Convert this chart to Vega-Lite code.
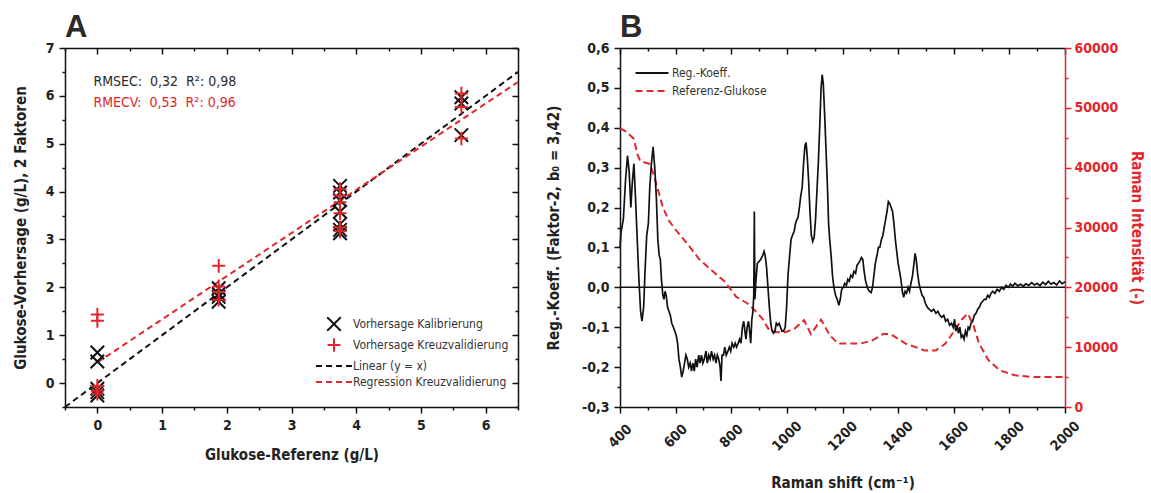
{
  "$schema": "https://vega.github.io/schema/vega-lite/v6.json",
  "padding": {"left": 13, "top": 12, "right": 5, "bottom": 2},
  "spacing": 24,
  "config": {
    "font": "Liberation Sans Narrow, DejaVu Sans Condensed, Liberation Sans, sans-serif",
    "view": {"stroke": null},
    "axis": {
      "grid": false,
      "labelFont": "Liberation Sans Narrow, DejaVu Sans Condensed, Liberation Sans, sans-serif",
      "labelFontSize": 14, "labelFontWeight": "bold", "labelColor": "#222",
      "titleFont": "Liberation Sans Narrow, DejaVu Sans Condensed, Liberation Sans, sans-serif",
      "titleFontSize": 15, "titleFontWeight": "bold", "titleColor": "#222",
      "domainColor": "#111", "domainWidth": 1.5, "tickColor": "#111", "tickWidth": 1.5,
      "labelFlush": false, "labelOverlap": false
    },
    "legend": {
      "labelFont": "Liberation Sans Narrow, DejaVu Sans Condensed, Liberation Sans, sans-serif",
      "labelFontSize": 12, "labelColor": "#333", "labelLimit": 400
    },
    "title": {"font": "Liberation Sans, sans-serif", "fontSize": 31, "fontWeight": "bold", "color": "#2a2a2a", "anchor": "start", "frame": "group"}
  },
  "resolve": {"scale": {"color": "independent", "shape": "independent", "strokeDash": "independent"}},
  "datasets": {
    "ptsA": [
      {"ref": 0, "pred": 0.64, "series": "Vorhersage Kalibrierung"},
      {"ref": 0, "pred": 0.45, "series": "Vorhersage Kalibrierung"},
      {"ref": 0, "pred": -0.12, "series": "Vorhersage Kalibrierung"},
      {"ref": 0, "pred": -0.19, "series": "Vorhersage Kalibrierung"},
      {"ref": 0, "pred": -0.26, "series": "Vorhersage Kalibrierung"},
      {"ref": 1.875, "pred": 1.98, "series": "Vorhersage Kalibrierung"},
      {"ref": 1.875, "pred": 1.86, "series": "Vorhersage Kalibrierung"},
      {"ref": 1.875, "pred": 1.8, "series": "Vorhersage Kalibrierung"},
      {"ref": 1.875, "pred": 1.7, "series": "Vorhersage Kalibrierung"},
      {"ref": 3.75, "pred": 4.12, "series": "Vorhersage Kalibrierung"},
      {"ref": 3.75, "pred": 3.98, "series": "Vorhersage Kalibrierung"},
      {"ref": 3.75, "pred": 3.82, "series": "Vorhersage Kalibrierung"},
      {"ref": 3.75, "pred": 3.58, "series": "Vorhersage Kalibrierung"},
      {"ref": 3.75, "pred": 3.32, "series": "Vorhersage Kalibrierung"},
      {"ref": 3.75, "pred": 3.2, "series": "Vorhersage Kalibrierung"},
      {"ref": 3.75, "pred": 3.13, "series": "Vorhersage Kalibrierung"},
      {"ref": 5.625, "pred": 5.97, "series": "Vorhersage Kalibrierung"},
      {"ref": 5.625, "pred": 5.84, "series": "Vorhersage Kalibrierung"},
      {"ref": 5.625, "pred": 5.18, "series": "Vorhersage Kalibrierung"},
      {"ref": 0, "pred": 1.43, "series": "Vorhersage Kreuzvalidierung"},
      {"ref": 0, "pred": 1.3, "series": "Vorhersage Kreuzvalidierung"},
      {"ref": 0, "pred": -0.06, "series": "Vorhersage Kreuzvalidierung"},
      {"ref": 0, "pred": -0.16, "series": "Vorhersage Kreuzvalidierung"},
      {"ref": 0, "pred": -0.22, "series": "Vorhersage Kreuzvalidierung"},
      {"ref": 1.875, "pred": 2.45, "series": "Vorhersage Kreuzvalidierung"},
      {"ref": 1.875, "pred": 2.02, "series": "Vorhersage Kreuzvalidierung"},
      {"ref": 1.875, "pred": 1.9, "series": "Vorhersage Kreuzvalidierung"},
      {"ref": 1.875, "pred": 1.74, "series": "Vorhersage Kreuzvalidierung"},
      {"ref": 3.75, "pred": 4.05, "series": "Vorhersage Kreuzvalidierung"},
      {"ref": 3.75, "pred": 3.92, "series": "Vorhersage Kreuzvalidierung"},
      {"ref": 3.75, "pred": 3.78, "series": "Vorhersage Kreuzvalidierung"},
      {"ref": 3.75, "pred": 3.55, "series": "Vorhersage Kreuzvalidierung"},
      {"ref": 3.75, "pred": 3.25, "series": "Vorhersage Kreuzvalidierung"},
      {"ref": 3.75, "pred": 3.17, "series": "Vorhersage Kreuzvalidierung"},
      {"ref": 5.625, "pred": 6.05, "series": "Vorhersage Kreuzvalidierung"},
      {"ref": 5.625, "pred": 5.77, "series": "Vorhersage Kreuzvalidierung"},
      {"ref": 5.625, "pred": 5.11, "series": "Vorhersage Kreuzvalidierung"}
    ],
    "lineA": [
      {"ref": -0.5, "pred": -0.5, "series": "Linear (y = x)"},
      {"ref": 6.5, "pred": 6.5, "series": "Linear (y = x)"},
      {"ref": 0, "pred": 0.43, "series": "Regression Kreuzvalidierung"},
      {"ref": 6.5, "pred": 6.29, "series": "Regression Kreuzvalidierung"}
    ],
    "annot": [
      {"kind": "cal", "x": -0.06, "y": 6.3, "label": "RMSEC:\u00a0 0,32\u00a0 R²: 0,98"},
      {"kind": "cv", "x": -0.06, "y": 5.86, "label": "RMECV:\u00a0 0,53\u00a0 R²: 0,96"}
    ],
    "coef": [
      {"shift": 400, "coef": 0.1}, {"shift": 404, "coef": 0.14}, {"shift": 412, "coef": 0.17}, {"shift": 420, "coef": 0.27},
      {"shift": 427, "coef": 0.33}, {"shift": 433, "coef": 0.29}, {"shift": 439, "coef": 0.2}, {"shift": 444, "coef": 0.26},
      {"shift": 450, "coef": 0.31}, {"shift": 456, "coef": 0.22}, {"shift": 462, "coef": 0.12}, {"shift": 468, "coef": 0.02},
      {"shift": 474, "coef": -0.06}, {"shift": 479, "coef": -0.085}, {"shift": 485, "coef": -0.05}, {"shift": 490, "coef": 0.04},
      {"shift": 496, "coef": 0.13}, {"shift": 502, "coef": 0.16}, {"shift": 507, "coef": 0.25}, {"shift": 513, "coef": 0.31},
      {"shift": 519, "coef": 0.352}, {"shift": 525, "coef": 0.3}, {"shift": 531, "coef": 0.22}, {"shift": 536, "coef": 0.12},
      {"shift": 541, "coef": 0.08}, {"shift": 545, "coef": 0.07}, {"shift": 549, "coef": 0.02}, {"shift": 554, "coef": -0.02},
      {"shift": 558, "coef": -0.03}, {"shift": 562, "coef": -0.01}, {"shift": 566, "coef": -0.02}, {"shift": 571, "coef": -0.05},
      {"shift": 576, "coef": -0.06}, {"shift": 581, "coef": -0.07}, {"shift": 586, "coef": -0.09}, {"shift": 592, "coef": -0.1},
      {"shift": 597, "coef": -0.11}, {"shift": 602, "coef": -0.12}, {"shift": 607, "coef": -0.14}, {"shift": 612, "coef": -0.18},
      {"shift": 617, "coef": -0.2}, {"shift": 622, "coef": -0.225}, {"shift": 627, "coef": -0.21}, {"shift": 632, "coef": -0.19},
      {"shift": 637, "coef": -0.17}, {"shift": 642, "coef": -0.18}, {"shift": 647, "coef": -0.2}, {"shift": 652, "coef": -0.19},
      {"shift": 657, "coef": -0.21}, {"shift": 662, "coef": -0.19}, {"shift": 667, "coef": -0.21}, {"shift": 672, "coef": -0.18},
      {"shift": 677, "coef": -0.2}, {"shift": 683, "coef": -0.17}, {"shift": 688, "coef": -0.19}, {"shift": 693, "coef": -0.17},
      {"shift": 698, "coef": -0.19}, {"shift": 703, "coef": -0.18}, {"shift": 709, "coef": -0.16}, {"shift": 714, "coef": -0.19},
      {"shift": 719, "coef": -0.17}, {"shift": 724, "coef": -0.18}, {"shift": 729, "coef": -0.16}, {"shift": 735, "coef": -0.18},
      {"shift": 740, "coef": -0.17}, {"shift": 745, "coef": -0.19}, {"shift": 750, "coef": -0.17}, {"shift": 755, "coef": -0.18},
      {"shift": 760, "coef": -0.2}, {"shift": 763, "coef": -0.235}, {"shift": 767, "coef": -0.17}, {"shift": 772, "coef": -0.17},
      {"shift": 777, "coef": -0.15}, {"shift": 782, "coef": -0.17}, {"shift": 788, "coef": -0.16}, {"shift": 793, "coef": -0.15},
      {"shift": 798, "coef": -0.16}, {"shift": 803, "coef": -0.14}, {"shift": 809, "coef": -0.15}, {"shift": 814, "coef": -0.14},
      {"shift": 819, "coef": -0.15}, {"shift": 825, "coef": -0.14}, {"shift": 830, "coef": -0.13}, {"shift": 835, "coef": -0.14},
      {"shift": 840, "coef": -0.1}, {"shift": 845, "coef": -0.085}, {"shift": 849, "coef": -0.11}, {"shift": 853, "coef": -0.13},
      {"shift": 857, "coef": -0.1}, {"shift": 862, "coef": -0.085}, {"shift": 866, "coef": -0.11}, {"shift": 870, "coef": -0.14},
      {"shift": 874, "coef": -0.08}, {"shift": 878, "coef": -0.06}, {"shift": 881, "coef": -0.02}, {"shift": 883, "coef": 0.19},
      {"shift": 885, "coef": -0.03}, {"shift": 889, "coef": 0.02}, {"shift": 894, "coef": 0.06}, {"shift": 900, "coef": 0.065},
      {"shift": 906, "coef": 0.07}, {"shift": 913, "coef": 0.08}, {"shift": 918, "coef": 0.09}, {"shift": 922, "coef": 0.08},
      {"shift": 927, "coef": 0.05}, {"shift": 932, "coef": 0.0}, {"shift": 937, "coef": -0.05}, {"shift": 942, "coef": -0.09},
      {"shift": 947, "coef": -0.11}, {"shift": 952, "coef": -0.115}, {"shift": 957, "coef": -0.11}, {"shift": 962, "coef": -0.09},
      {"shift": 967, "coef": -0.095}, {"shift": 972, "coef": -0.09}, {"shift": 977, "coef": -0.1}, {"shift": 982, "coef": -0.11},
      {"shift": 988, "coef": -0.11}, {"shift": 994, "coef": -0.1}, {"shift": 999, "coef": -0.05}, {"shift": 1004, "coef": 0.03},
      {"shift": 1010, "coef": 0.08}, {"shift": 1015, "coef": 0.12}, {"shift": 1020, "coef": 0.13}, {"shift": 1026, "coef": 0.14},
      {"shift": 1031, "coef": 0.16}, {"shift": 1036, "coef": 0.17}, {"shift": 1040, "coef": 0.175}, {"shift": 1045, "coef": 0.2},
      {"shift": 1050, "coef": 0.23}, {"shift": 1055, "coef": 0.25}, {"shift": 1060, "coef": 0.31}, {"shift": 1065, "coef": 0.355},
      {"shift": 1069, "coef": 0.363}, {"shift": 1073, "coef": 0.33}, {"shift": 1078, "coef": 0.27}, {"shift": 1083, "coef": 0.19},
      {"shift": 1088, "coef": 0.13}, {"shift": 1093, "coef": 0.115}, {"shift": 1098, "coef": 0.125}, {"shift": 1103, "coef": 0.17},
      {"shift": 1108, "coef": 0.24}, {"shift": 1113, "coef": 0.31}, {"shift": 1118, "coef": 0.4}, {"shift": 1123, "coef": 0.5},
      {"shift": 1127, "coef": 0.533}, {"shift": 1131, "coef": 0.51}, {"shift": 1136, "coef": 0.43}, {"shift": 1141, "coef": 0.34},
      {"shift": 1146, "coef": 0.25}, {"shift": 1150, "coef": 0.16}, {"shift": 1154, "coef": 0.12}, {"shift": 1159, "coef": 0.08},
      {"shift": 1164, "coef": 0.03}, {"shift": 1169, "coef": 0.0}, {"shift": 1175, "coef": -0.02}, {"shift": 1181, "coef": -0.03},
      {"shift": 1187, "coef": -0.045}, {"shift": 1192, "coef": -0.03}, {"shift": 1197, "coef": -0.005}, {"shift": 1203, "coef": 0.0},
      {"shift": 1208, "coef": 0.01}, {"shift": 1214, "coef": 0.005}, {"shift": 1219, "coef": 0.02}, {"shift": 1224, "coef": 0.015},
      {"shift": 1230, "coef": 0.03}, {"shift": 1236, "coef": 0.025}, {"shift": 1241, "coef": 0.04}, {"shift": 1247, "coef": 0.035},
      {"shift": 1252, "coef": 0.055}, {"shift": 1257, "coef": 0.06}, {"shift": 1262, "coef": 0.065}, {"shift": 1268, "coef": 0.075},
      {"shift": 1273, "coef": 0.07}, {"shift": 1277, "coef": 0.045}, {"shift": 1282, "coef": 0.02}, {"shift": 1287, "coef": 0.005},
      {"shift": 1292, "coef": -0.005}, {"shift": 1297, "coef": -0.01}, {"shift": 1303, "coef": -0.013}, {"shift": 1308, "coef": 0.0},
      {"shift": 1313, "coef": 0.03}, {"shift": 1318, "coef": 0.06}, {"shift": 1324, "coef": 0.08}, {"shift": 1329, "coef": 0.1},
      {"shift": 1334, "coef": 0.1}, {"shift": 1340, "coef": 0.12}, {"shift": 1345, "coef": 0.13}, {"shift": 1350, "coef": 0.15},
      {"shift": 1355, "coef": 0.17}, {"shift": 1360, "coef": 0.19}, {"shift": 1365, "coef": 0.215}, {"shift": 1370, "coef": 0.21},
      {"shift": 1375, "coef": 0.2}, {"shift": 1380, "coef": 0.19}, {"shift": 1385, "coef": 0.16}, {"shift": 1390, "coef": 0.12},
      {"shift": 1395, "coef": 0.09}, {"shift": 1400, "coef": 0.06}, {"shift": 1405, "coef": 0.04}, {"shift": 1410, "coef": 0.02},
      {"shift": 1415, "coef": -0.01}, {"shift": 1420, "coef": -0.025}, {"shift": 1425, "coef": -0.01}, {"shift": 1430, "coef": -0.015},
      {"shift": 1436, "coef": 0.0}, {"shift": 1441, "coef": -0.01}, {"shift": 1446, "coef": 0.01}, {"shift": 1452, "coef": 0.03},
      {"shift": 1457, "coef": 0.06}, {"shift": 1461, "coef": 0.085}, {"shift": 1465, "coef": 0.07}, {"shift": 1470, "coef": 0.035},
      {"shift": 1475, "coef": 0.01}, {"shift": 1480, "coef": -0.005}, {"shift": 1486, "coef": -0.02}, {"shift": 1492, "coef": -0.025},
      {"shift": 1498, "coef": -0.04}, {"shift": 1505, "coef": -0.05}, {"shift": 1512, "coef": -0.055}, {"shift": 1520, "coef": -0.06},
      {"shift": 1528, "coef": -0.055}, {"shift": 1536, "coef": -0.065}, {"shift": 1543, "coef": -0.06}, {"shift": 1550, "coef": -0.07},
      {"shift": 1557, "coef": -0.075}, {"shift": 1564, "coef": -0.07}, {"shift": 1571, "coef": -0.085}, {"shift": 1578, "coef": -0.08},
      {"shift": 1585, "coef": -0.095}, {"shift": 1592, "coef": -0.09}, {"shift": 1598, "coef": -0.1}, {"shift": 1603, "coef": -0.08},
      {"shift": 1607, "coef": -0.11}, {"shift": 1612, "coef": -0.095}, {"shift": 1617, "coef": -0.115}, {"shift": 1622, "coef": -0.1},
      {"shift": 1627, "coef": -0.125}, {"shift": 1632, "coef": -0.12}, {"shift": 1637, "coef": -0.13}, {"shift": 1642, "coef": -0.11},
      {"shift": 1647, "coef": -0.12}, {"shift": 1652, "coef": -0.1}, {"shift": 1657, "coef": -0.105}, {"shift": 1662, "coef": -0.09},
      {"shift": 1668, "coef": -0.085}, {"shift": 1674, "coef": -0.07}, {"shift": 1680, "coef": -0.065}, {"shift": 1686, "coef": -0.055},
      {"shift": 1692, "coef": -0.05}, {"shift": 1698, "coef": -0.04}, {"shift": 1704, "coef": -0.035}, {"shift": 1710, "coef": -0.03},
      {"shift": 1716, "coef": -0.03}, {"shift": 1722, "coef": -0.02}, {"shift": 1728, "coef": -0.025}, {"shift": 1734, "coef": -0.015},
      {"shift": 1740, "coef": -0.01}, {"shift": 1748, "coef": -0.015}, {"shift": 1756, "coef": -0.005}, {"shift": 1764, "coef": -0.01},
      {"shift": 1772, "coef": 0.0}, {"shift": 1780, "coef": -0.005}, {"shift": 1788, "coef": 0.005}, {"shift": 1796, "coef": 0.0},
      {"shift": 1804, "coef": 0.008}, {"shift": 1812, "coef": 0.003}, {"shift": 1820, "coef": 0.01}, {"shift": 1830, "coef": 0.004},
      {"shift": 1840, "coef": 0.008}, {"shift": 1850, "coef": 0.003}, {"shift": 1860, "coef": 0.009}, {"shift": 1870, "coef": 0.005},
      {"shift": 1880, "coef": 0.012}, {"shift": 1890, "coef": 0.006}, {"shift": 1900, "coef": 0.01}, {"shift": 1910, "coef": 0.004},
      {"shift": 1920, "coef": 0.013}, {"shift": 1930, "coef": 0.007}, {"shift": 1940, "coef": 0.015}, {"shift": 1950, "coef": 0.008},
      {"shift": 1960, "coef": 0.012}, {"shift": 1970, "coef": 0.006}, {"shift": 1980, "coef": 0.016}, {"shift": 1990, "coef": 0.009},
      {"shift": 2000, "coef": 0.014}
    ],
    "refg": [
      {"shift": 400, "intensity": 46600}, {"shift": 426, "intensity": 45900}, {"shift": 450, "intensity": 44800},
      {"shift": 462, "intensity": 42300}, {"shift": 473, "intensity": 41100}, {"shift": 507, "intensity": 40600},
      {"shift": 520, "intensity": 39000}, {"shift": 534, "intensity": 36700}, {"shift": 554, "intensity": 33400},
      {"shift": 575, "intensity": 31200}, {"shift": 602, "intensity": 29500}, {"shift": 642, "intensity": 27300},
      {"shift": 683, "intensity": 24800}, {"shift": 723, "intensity": 23100}, {"shift": 778, "intensity": 20900},
      {"shift": 818, "intensity": 18400}, {"shift": 859, "intensity": 17300}, {"shift": 886, "intensity": 16100},
      {"shift": 913, "intensity": 14700}, {"shift": 933, "intensity": 13100}, {"shift": 961, "intensity": 12500},
      {"shift": 994, "intensity": 12500}, {"shift": 1028, "intensity": 13100}, {"shift": 1062, "intensity": 14500},
      {"shift": 1086, "intensity": 12200}, {"shift": 1123, "intensity": 14600}, {"shift": 1154, "intensity": 12000},
      {"shift": 1184, "intensity": 10600}, {"shift": 1265, "intensity": 10600}, {"shift": 1306, "intensity": 11100},
      {"shift": 1346, "intensity": 12200}, {"shift": 1373, "intensity": 12200}, {"shift": 1427, "intensity": 10600},
      {"shift": 1495, "intensity": 9460}, {"shift": 1536, "intensity": 9460}, {"shift": 1570, "intensity": 10600},
      {"shift": 1603, "intensity": 12800}, {"shift": 1630, "intensity": 14700}, {"shift": 1651, "intensity": 15600},
      {"shift": 1671, "intensity": 13600}, {"shift": 1691, "intensity": 10600}, {"shift": 1725, "intensity": 7800},
      {"shift": 1766, "intensity": 6100}, {"shift": 1820, "intensity": 5300}, {"shift": 1888, "intensity": 5000},
      {"shift": 2000, "intensity": 5000}
    ],
    "zeroline": [{"level": 0}]
  },
  "hconcat": [
    {
      "width": 453,
      "height": 359,
      "title": {"text": "A", "offset": -3},
      "layer": [
        {
          "data": {"name": "lineA"},
          "mark": {"type": "line", "strokeWidth": 2},
          "encoding": {
            "x": {"field": "ref", "type": "quantitative", "scale": {"domain": [-0.5, 6.5], "nice": false, "zero": false},
              "axis": {"orient": "bottom", "values": [-0.5, 0, 0.5, 1, 1.5, 2, 2.5, 3, 3.5, 4, 4.5, 5, 5.5, 6, 6.5],
                "tickSize": {"condition": {"test": "datum.value % 1 === 0", "value": 6}, "value": 3},
                "labelExpr": "datum.value % 1 === 0 ? format(datum.value, 'd') : ''",
                "labelPadding": 5, "title": "Glukose-Referenz (g/L)", "titlePadding": 15}},
            "y": {"field": "pred", "type": "quantitative", "scale": {"domain": [-0.5, 7], "nice": false, "zero": false},
              "axis": {"orient": "left", "values": [-0.5, 0, 0.5, 1, 1.5, 2, 2.5, 3, 3.5, 4, 4.5, 5, 5.5, 6, 6.5, 7],
                "tickSize": {"condition": {"test": "datum.value % 1 === 0", "value": 6}, "value": 3},
                "labelExpr": "datum.value % 1 === 0 ? format(datum.value, 'd') : ''",
                "labelPadding": 5, "title": "Glukose-Vorhersage (g/L), 2 Faktoren", "titlePadding": 17}},
            "color": {"field": "series", "type": "nominal",
              "scale": {"domain": ["Vorhersage Kalibrierung", "Vorhersage Kreuzvalidierung", "Linear (y = x)", "Regression Kreuzvalidierung"],
                "range": ["#111111", "#e3262b", "#111111", "#e3262b"]},
              "legend": {"title": null, "orient": "none", "legendX": 250, "legendY": 266, "padding": 0,
                "symbolSize": 324, "symbolStrokeWidth": 2, "rowPadding": -4, "symbolOffset": 9, "labelOffset": 9}},
            "strokeDash": {"field": "series", "type": "nominal",
              "scale": {"domain": ["Vorhersage Kalibrierung", "Vorhersage Kreuzvalidierung", "Linear (y = x)", "Regression Kreuzvalidierung"],
                "range": [[1, 0], [1, 0], [6, 4], [6, 4]]},
              "legend": {"title": null, "orient": "none", "legendX": 250, "legendY": 266, "padding": 0,
                "symbolSize": 324, "symbolStrokeWidth": 2, "rowPadding": -4, "symbolOffset": 9, "labelOffset": 9}}
          }
        },
        {
          "data": {"name": "ptsA"},
          "mark": {"type": "point", "filled": false, "strokeWidth": 2, "size": 324, "opacity": 1},
          "encoding": {
            "x": {"field": "ref", "type": "quantitative",
              "axis": {"orient": "top", "values": [-0.5, 0, 0.5, 1, 1.5, 2, 2.5, 3, 3.5, 4, 4.5, 5, 5.5, 6, 6.5],
                "tickSize": {"condition": {"test": "datum.value % 1 === 0", "value": -6}, "value": -3},
                "labels": false, "title": null}},
            "y": {"field": "pred", "type": "quantitative",
              "axis": {"orient": "right", "values": [-0.5, 0, 0.5, 1, 1.5, 2, 2.5, 3, 3.5, 4, 4.5, 5, 5.5, 6, 6.5, 7],
                "tickSize": {"condition": {"test": "datum.value % 1 === 0", "value": -6}, "value": -3},
                "labels": false, "title": null}},
            "color": {"field": "series", "type": "nominal",
              "scale": {"domain": ["Vorhersage Kalibrierung", "Vorhersage Kreuzvalidierung", "Linear (y = x)", "Regression Kreuzvalidierung"],
                "range": ["#111111", "#e3262b", "#111111", "#e3262b"]},
              "legend": {"title": null, "orient": "none", "legendX": 250, "legendY": 266, "padding": 0,
                "symbolSize": 324, "symbolStrokeWidth": 2, "rowPadding": -4, "symbolOffset": 9, "labelOffset": 9}},
            "shape": {"field": "series", "type": "nominal",
              "scale": {"domain": ["Vorhersage Kalibrierung", "Vorhersage Kreuzvalidierung", "Linear (y = x)", "Regression Kreuzvalidierung"],
                "range": ["M-0.75,-0.75L0.75,0.75M-0.75,0.75L0.75,-0.75", "M-0.72,0L0.72,0M0,-0.76L0,0.76", "M-2,0L2,0", "M-2,0L2,0"]},
              "legend": {"title": null, "orient": "none", "legendX": 250, "legendY": 266, "padding": 0,
                "symbolSize": 324, "symbolStrokeWidth": 2, "rowPadding": -4, "symbolOffset": 9, "labelOffset": 9}}
          }
        },
        {
          "data": {"name": "annot"},
          "transform": [{"filter": "datum.kind == 'cal'"}],
          "mark": {"type": "text", "align": "left", "baseline": "middle", "color": "#2a2a2a", "fontSize": 14},
          "encoding": {
            "x": {"field": "x", "type": "quantitative", "axis": null},
            "y": {"field": "y", "type": "quantitative", "axis": null},
            "text": {"field": "label"}
          }
        },
        {
          "data": {"name": "annot"},
          "transform": [{"filter": "datum.kind == 'cv'"}],
          "mark": {"type": "text", "align": "left", "baseline": "middle", "color": "#e3262b", "fontSize": 14},
          "encoding": {
            "x": {"field": "x", "type": "quantitative", "axis": null},
            "y": {"field": "y", "type": "quantitative", "axis": null},
            "text": {"field": "label"}
          }
        }
      ]
    },
    {
      "width": 445,
      "height": 359,
      "title": {"text": "B", "offset": -3},
      "layer": [
        {
          "data": {"name": "zeroline"},
          "mark": {"type": "rule", "color": "#111111", "strokeWidth": 1.5},
          "encoding": {"y": {"field": "level", "type": "quantitative", "scale": {"domain": [-0.3, 0.6], "nice": false, "zero": false}, "axis": null}}
        },
        {
          "data": {"name": "refg"},
          "mark": {"type": "line", "strokeWidth": 2},
          "encoding": {
            "x": {"field": "shift", "type": "quantitative", "scale": {"domain": [400, 2000], "nice": false, "zero": false},
              "axis": {"orient": "top", "values": [400, 500, 600, 700, 800, 900, 1000, 1100, 1200, 1300, 1400, 1500, 1600, 1700, 1800, 1900, 2000],
                "tickSize": {"condition": {"test": "datum.value % 200 === 0", "value": -6}, "value": -3},
                "labels": false, "title": null}},
            "y": {"field": "intensity", "type": "quantitative", "scale": {"domain": [0, 60000], "nice": false, "zero": false},
              "axis": {"orient": "right", "values": [0, 5000, 10000, 15000, 20000, 25000, 30000, 35000, 40000, 45000, 50000, 55000, 60000],
                "tickSize": {"condition": {"test": "datum.value % 10000 === 0", "value": 6}, "value": 3},
                "labelExpr": "datum.value % 10000 === 0 ? format(datum.value, 'd') : ''",
                "labelPadding": 3, "labelColor": "#e3262b", "tickColor": "#e3262b", "domainColor": "#e3262b",
                "title": "Raman Intensität (-)", "titleColor": "#e3262b", "titlePadding": 11}},
            "color": {"datum": "Referenz-Glukose", "type": "nominal",
              "scale": {"domain": ["Reg.-Koeff.", "Referenz-Glukose"], "range": ["#111111", "#e3262b"]},
              "legend": {"title": null, "orient": "none", "legendX": 14, "legendY": 15, "padding": 0,
                "symbolSize": 324, "symbolStrokeWidth": 2, "rowPadding": 2, "symbolOffset": 8, "labelOffset": 10, "symbolType": "M-1.83,0L1.83,0"}},
            "strokeDash": {"datum": "Referenz-Glukose", "type": "nominal",
              "scale": {"domain": ["Reg.-Koeff.", "Referenz-Glukose"], "range": [[1, 0], [7, 4]]},
              "legend": {"title": null, "orient": "none", "legendX": 14, "legendY": 15, "padding": 0,
                "symbolSize": 324, "symbolStrokeWidth": 2, "rowPadding": 2, "symbolOffset": 8, "labelOffset": 10, "symbolType": "M-1.83,0L1.83,0"}}
          }
        },
        {
          "data": {"name": "coef"},
          "mark": {"type": "line", "strokeWidth": 1.7},
          "encoding": {
            "x": {"field": "shift", "type": "quantitative",
              "axis": {"orient": "bottom", "values": [400, 500, 600, 700, 800, 900, 1000, 1100, 1200, 1300, 1400, 1500, 1600, 1700, 1800, 1900, 2000],
                "tickSize": {"condition": {"test": "datum.value % 200 === 0", "value": 6}, "value": 3},
                "labelExpr": "datum.value % 200 === 0 ? format(datum.value, 'd') : ''",
                "labelAngle": -45, "labelAlign": "center", "labelBaseline": "middle", "labelPadding": 23,
                "title": "Raman shift (cm⁻¹)", "titlePadding": 22}},
            "y": {"field": "coef", "type": "quantitative", "scale": {"domain": [-0.3, 0.6], "nice": false, "zero": false},
              "axis": {"orient": "left", "values": [-0.3, -0.25, -0.2, -0.15, -0.1, -0.05, 0, 0.05, 0.1, 0.15, 0.2, 0.25, 0.3, 0.35, 0.4, 0.45, 0.5, 0.55, 0.6],
                "tickSize": {"condition": {"test": "abs(round(datum.value * 100)) % 10 === 0", "value": 6}, "value": 3},
                "labelExpr": "abs(round(datum.value * 100)) % 10 === 0 ? (datum.value < -0.001 ? '-' : '') + replace(format(abs(datum.value), '.1f'), '.', ',') : ''",
                "labelPadding": 5, "title": "Reg.-Koeff. (Faktor-2, b₀ = 3,42)", "titlePadding": 20}},
            "color": {"datum": "Reg.-Koeff.", "type": "nominal",
              "scale": {"domain": ["Reg.-Koeff.", "Referenz-Glukose"], "range": ["#111111", "#e3262b"]},
              "legend": {"title": null, "orient": "none", "legendX": 14, "legendY": 15, "padding": 0,
                "symbolSize": 324, "symbolStrokeWidth": 2, "rowPadding": 2, "symbolOffset": 8, "labelOffset": 10, "symbolType": "M-1.83,0L1.83,0"}},
            "strokeDash": {"datum": "Reg.-Koeff.", "type": "nominal",
              "scale": {"domain": ["Reg.-Koeff.", "Referenz-Glukose"], "range": [[1, 0], [7, 4]]},
              "legend": {"title": null, "orient": "none", "legendX": 14, "legendY": 15, "padding": 0,
                "symbolSize": 324, "symbolStrokeWidth": 2, "rowPadding": 2, "symbolOffset": 8, "labelOffset": 10, "symbolType": "M-1.83,0L1.83,0"}}
          }
        }
      ],
      "resolve": {"scale": {"y": "independent"}}
    }
  ]
}
